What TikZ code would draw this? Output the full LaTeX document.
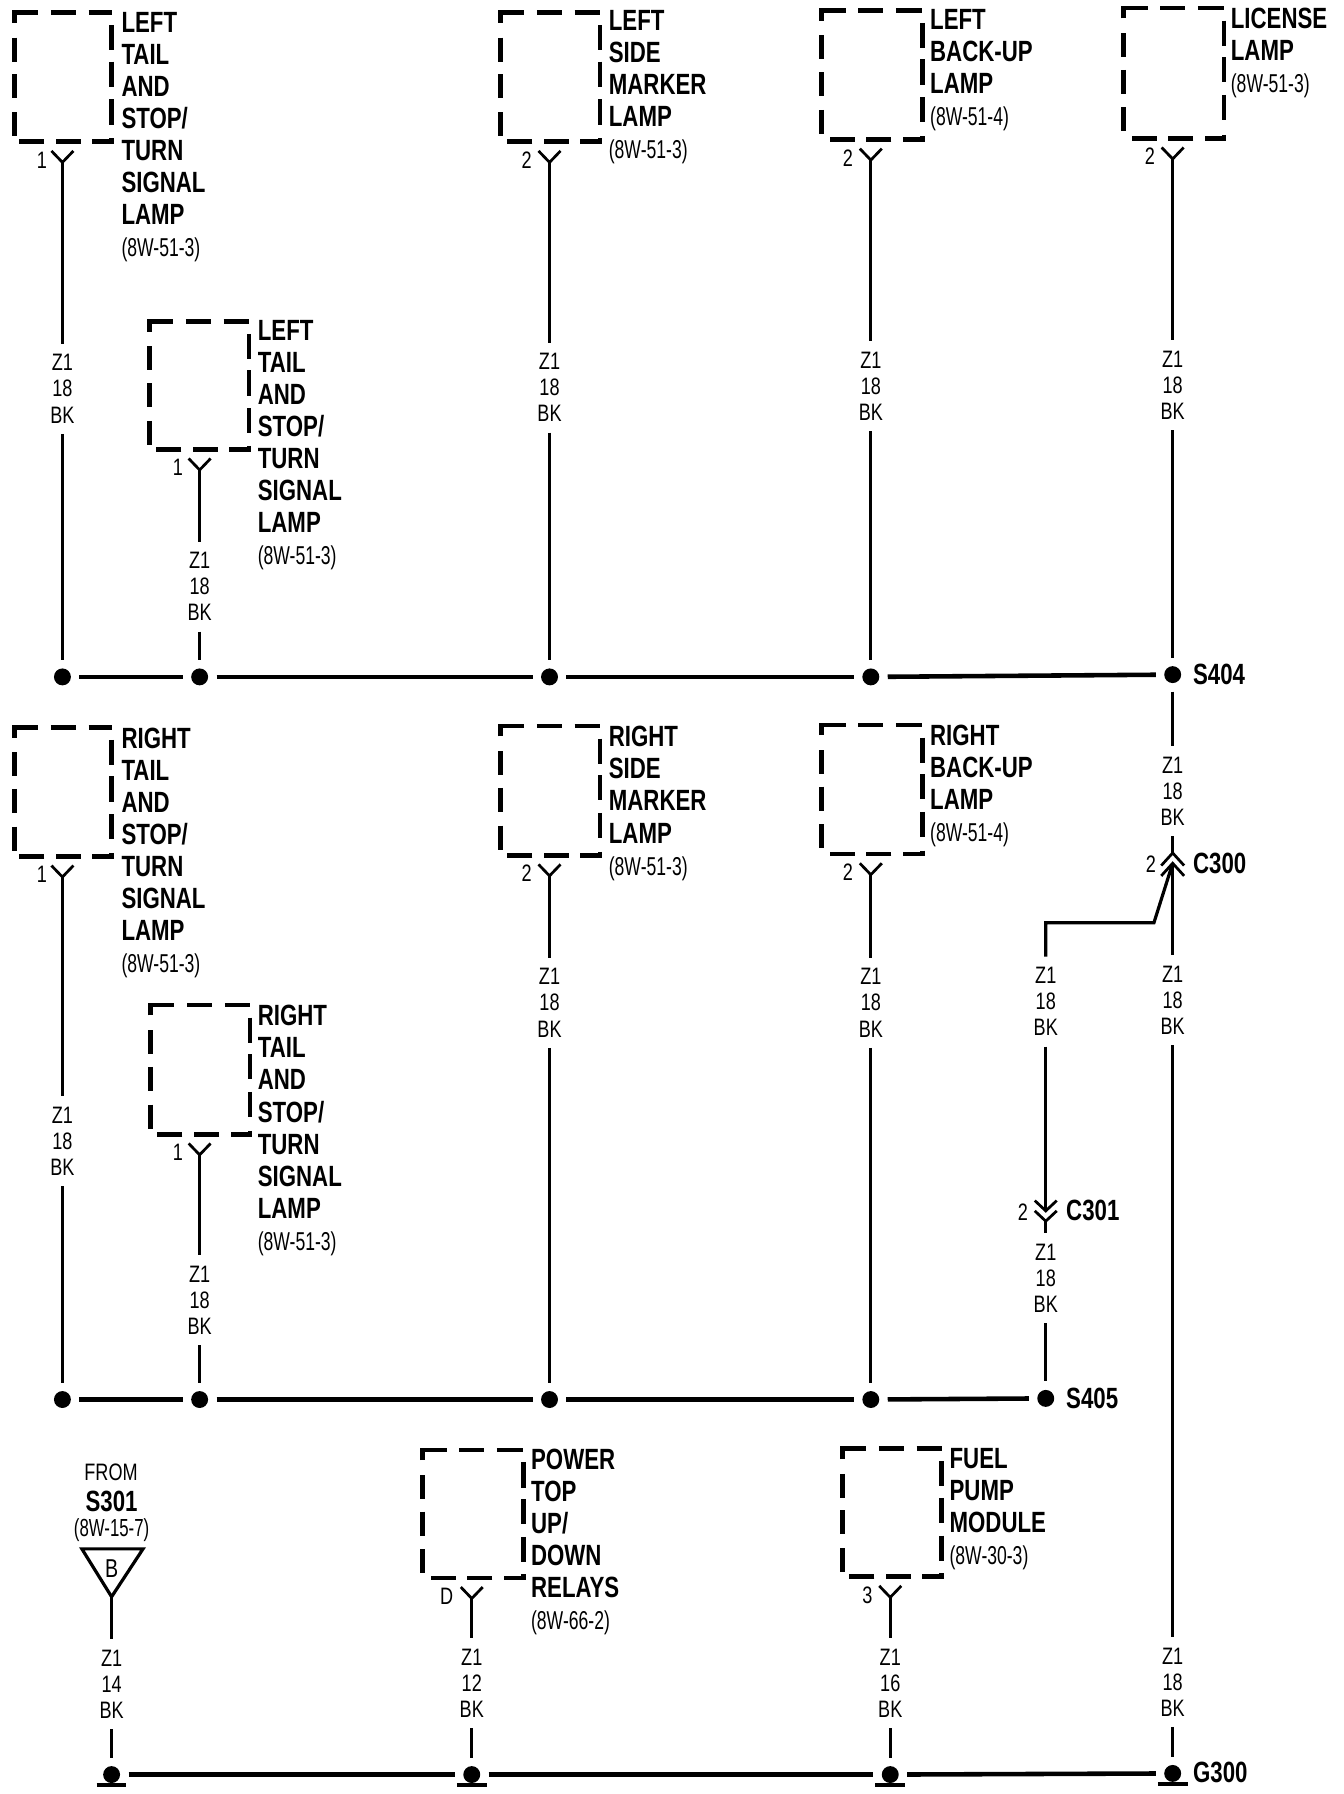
\documentclass[tikz,border=0pt]{standalone}
\usepackage{fontspec}
\setmainfont[FakeStretch=0.76]{Liberation Sans}
\newfontfamily\narrowfam[FakeStretch=0.68]{Liberation Sans}
\tikzset{
  wire/.style={line width=1.4pt},
  bus/.style={line width=2pt},
  yfork/.style={line width=1.2pt},
  lampbox/.style={line width=2pt},
  splice/.style={circle,fill=black,minimum size=7.4pt,inner sep=0pt,outer sep=3.7pt},
  gauge/.style={align=center,inner xsep=0pt,inner ysep=4.5pt,font=\fontsize{10.4}{11.4}\selectfont},
  lamptext/.style={align=left,anchor=north west,inner sep=0pt,font=\fontsize{12.8}{14}\selectfont\bfseries},
  small/.style={inner sep=0pt,font=\fontsize{10.4}{11.4}\selectfont},
  tag/.style={inner sep=0pt,anchor=west,font=\fontsize{12.8}{14}\selectfont\bfseries},
}
\newcommand{\sm}[1]{{\narrowfam\fontsize{11.3}{14}\selectfont\mdseries #1}}
% box: name, left, top, right, bottom -- dashes placed as in the reference
\newcommand{\lampbox}[5]{%
  \draw[lampbox] (#2,#3+9) -- (#2,#3) -- (#2+21,#3);
  \draw[lampbox] (#2+32,#3) -- (#2+54,#3);
  \draw[lampbox] (#2+65,#3) -- (#4,#3);
  \draw[lampbox] (#4,#3+11) -- (#4,#3+33);
  \draw[lampbox] (#4,#3+43) -- (#4,#3+65);
  \draw[lampbox] (#4,#3+76) -- (#4,#3+98);
  \draw[lampbox] (#4,#5-3) -- (#4,#5) -- (#4-17,#5);
  \draw[lampbox] (#4-27,#5) -- (#4-49,#5);
  \draw[lampbox] (#4-59,#5) -- (#4-81,#5);
  \draw[lampbox] (#2,#3+22) -- (#2,#3+43);
  \draw[lampbox] (#2,#3+54) -- (#2,#3+75);
  \draw[lampbox] (#2,#3+87) -- (#2,#3+108);
  \coordinate (#1) at (#2,#3);}
% fork: name, x, box bottom, pin text, pin offset
\newcommand{\fork}[5]{%
  \coordinate (#1) at (#2,#3+18);
  \coordinate (#1l) at (#2-9.6,#3+8);
  \coordinate (#1r) at (#2+9.6,#3+8);
  \draw[yfork] (#1l) -- (#1) -- (#1r);
  \node[small] (#1n) at (#2-#5,#3+16) {#4};}
% run: fork name, x, middle-of-gauge y, dot name, dot y, gauge text middle
\newcommand{\run}[7]{%
  \node[gauge] (#1g) at (#2,#3) {Z1\\#7\\BK};
  \node[splice] (#4) at (#2,#5) {};
  \draw[wire] (#1) -- (#1g.north);
  \draw[wire] (#1g.south) -- (#4);}
\begin{document}
\begin{tikzpicture}[x=0.5pt,y=-0.5pt]
\useasboundingbox (0,0) rectangle (1175.3,1569);
\begin{scope}[xshift=0.3pt]
% top group
\lampbox{b1}{12}{11}{97}{124}
\fork{f1}{54}{124}{1}{18}
\node[lamptext] (t1) at (105.3,10) {LEFT\\TAIL\\AND\\STOP/\\TURN\\SIGNAL\\LAMP\\\sm{(8W-51-3)}};
\run{f1}{54}{340}{d1}{592}{}{18}
\lampbox{b2}{130}{281}{217}{393}
\fork{f2}{174}{393}{1}{19}
\node[lamptext] (t2) at (224.5,280) {LEFT\\TAIL\\AND\\STOP/\\TURN\\SIGNAL\\LAMP\\\sm{(8W-51-3)}};
\run{f2}{174}{513}{d2}{592}{}{18}
\lampbox{b3}{437}{11}{524}{124}
\fork{f3}{480}{124}{2}{20}
\node[lamptext] (t3) at (531.5,9) {LEFT\\SIDE\\MARKER\\LAMP\\\sm{(8W-51-3)}};
\run{f3}{480}{339}{d3}{592}{}{18}
\lampbox{b4}{718}{9}{806}{122}
\fork{f4}{761}{122}{2}{20}
\node[lamptext] (t4) at (812.5,8) {LEFT\\BACK-UP\\LAMP\\\sm{(8W-51-4)}};
\run{f4}{761}{338}{d4}{592}{}{18}
\lampbox{b5}{982}{7}{1070}{121}
\fork{f5}{1025}{121}{2}{20}
\node[lamptext] (t5) at (1075.5,7) {LICENSE\\LAMP\\\sm{(8W-51-3)}};
\run{f5}{1025}{337}{d5}{590}{}{18}
\node[tag] (s404) at (1042.5,590) {S404};
\draw[bus] (d1) -- (d2);
\draw[bus] (d2) -- (d3);
\draw[bus] (d3) -- (d4);
\draw[bus] (d4) -- (d5);
% S404 to C300
\node[gauge] (g6) at (1025,692) {Z1\\18\\BK};
\coordinate (c300a) at (1025,746);
\coordinate (c300b) at (1025,755);
\draw[wire] (d5) -- (g6.north);
\draw[wire] (g6.south) -- (c300a);
\draw[yfork] (1015,757) -- (c300a) -- (1035,757);
\draw[yfork] (1015,766) -- (c300b) -- (1035,766);
\node[small] (c300p) at (1006,756) {2};
\node[tag] (c300) at (1042.5,755) {C300};
% C300 to G300
\node[gauge] (g7) at (1025,875) {Z1\\18\\BK};
\node[gauge] (g8) at (1025,1471) {Z1\\18\\BK};
\node[splice] (d12) at (1025,1551) {};
\draw[wire] (c300b) -- (g7.north);
\draw[wire] (g7.south) -- (g8.north);
\draw[wire] (g8.south) -- (d12);
\node[tag] (g300) at (1042.5,1550) {G300};
% C300 to C301
\node[gauge] (g9) at (914,876) {Z1\\18\\BK};
\coordinate (k1) at (914,807);
\coordinate (k2) at (1008.6,807);
\draw[wire] (g9.north) -- (k1) -- (k2) -- (c300b);
\coordinate (c301a) at (914,1059);
\coordinate (c301b) at (914,1068);
\draw[wire] (g9.south) -- (c301a);
\draw[yfork] (904.4,1050) -- (c301a) -- (923.6,1050);
\draw[yfork] (904.4,1059) -- (c301b) -- (923.6,1059);
\node[small] (c301p) at (894,1060) {2};
\node[tag] (c301) at (931.5,1059) {C301};
\node[gauge] (g10) at (914,1118) {Z1\\18\\BK};
\node[splice] (d10) at (914,1223) {};
\draw[wire] (c301b) -- (g10.north);
\draw[wire] (g10.south) -- (d10);
\node[tag] (s405) at (931.5,1223) {S405};
% middle group
\lampbox{b6}{12}{636}{97}{749}
\fork{f6}{54}{749}{1}{18}
\node[lamptext] (t6) at (105.3,636) {RIGHT\\TAIL\\AND\\STOP/\\TURN\\SIGNAL\\LAMP\\\sm{(8W-51-3)}};
\run{f6}{54}{998}{e1}{1224}{}{18}
\lampbox{b7}{131}{879}{218}{992}
\fork{f7}{174}{992}{1}{19}
\node[lamptext] (t7) at (224.5,879) {RIGHT\\TAIL\\AND\\STOP/\\TURN\\SIGNAL\\LAMP\\\sm{(8W-51-3)}};
\run{f7}{174}{1137}{e2}{1224}{}{18}
\lampbox{b8}{437}{635}{524}{748}
\fork{f8}{480}{748}{2}{20}
\node[lamptext] (t8) at (531.5,635) {RIGHT\\SIDE\\MARKER\\LAMP\\\sm{(8W-51-3)}};
\run{f8}{480}{877}{e3}{1224}{}{18}
\lampbox{b9}{718}{634}{806}{747}
\fork{f9}{761}{747}{2}{20}
\node[lamptext] (t9) at (812.5,634) {RIGHT\\BACK-UP\\LAMP\\\sm{(8W-51-4)}};
\run{f9}{761}{877}{e4}{1224}{}{18}
\draw[bus] (e1) -- (e2);
\draw[bus] (e2) -- (e3);
\draw[bus] (e3) -- (e4);
\draw[bus] (e4) -- (d10);
% bottom group
\node[small] (from) at (96.5,1288) {FROM};
\node[tag,anchor=center] (s301) at (97,1313) {S301};
\node[inner sep=0pt,font=\narrowfam\fontsize{10.8}{14}\selectfont] (s301r) at (97,1338) {(8W-15-7)};
\coordinate (tri) at (97,1396.5);
\draw[line width=1.4pt] (71,1354.6) -- (124.5,1354.6) -- (tri) -- cycle;
\node[small,font=\fontsize{11.3}{14}\selectfont] (triB) at (97,1372) {B};
\run{tri}{97}{1473}{h1}{1552}{}{14}
\lampbox{b10}{369}{1268}{457}{1380}
\fork{f10}{412}{1380}{D}{22}
\node[lamptext] (t10) at (463.5,1267) {POWER\\TOP\\UP/\\DOWN\\RELAYS\\\sm{(8W-66-2)}};
\run{f10}{412}{1472}{h2}{1552}{}{12}
\lampbox{b11}{736}{1267}{823}{1379}
\fork{f11}{778}{1379}{3}{20}
\node[lamptext] (t11) at (829.5,1266) {FUEL\\PUMP\\MODULE\\\sm{(8W-30-3)}};
\run{f11}{778}{1472}{h3}{1552}{}{16}
\draw[bus] (h1) -- (h2);
\draw[bus] (h2) -- (h3);
\draw[bus] (h3) -- (d12);
\foreach \g in {h1,h2,h3,d12} {
  \draw[line width=2pt] ([xshift=-6.5pt,yshift=-4.6pt]\g.center) -- ([xshift=6.5pt,yshift=-4.6pt]\g.center);
}
\end{scope}
\end{tikzpicture}
\end{document}
